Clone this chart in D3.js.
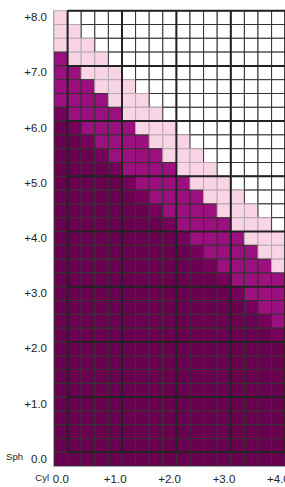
<!DOCTYPE html>
<html>
<head>
  <meta charset="utf-8">
  <script src="https://d3js.org/d3.v7.min.js"></script>
  <style>
    body { margin: 0; background: #fff; }
    svg text { font-family: "Liberation Sans", Arial, sans-serif; fill: #222; }
    .cell { stroke: #333; stroke-width: 1px; }
    .cell.p { stroke: #b9a9b0; }
    .major { stroke: #222; stroke-width: 2px; }
    .axis-line { stroke: #aaa; stroke-width: 1px; fill: none; }
  </style>
</head>
<body>
  <svg id="chart" width="285" height="487"></svg>
  <script>

    // Sph rows (top to bottom) and Cyl columns (left to right)
    const sphValues = [8.00, 7.75, 7.50, 7.25, 7.00, 6.75, 6.50, 6.25, 6.00, 5.75, 5.50,
                       5.25, 5.00, 4.75, 4.50, 4.25, 4.00, 3.75, 3.50, 3.25, 3.00, 2.75,
                       2.50, 2.25, 2.00, 1.75, 1.50, 1.25, 1.00, 0.75, 0.50, 0.25, 0.00];
    const cylValues = [0.00, 0.25, 0.50, 0.75, 1.00, 1.25, 1.50, 1.75, 2.00,
                       2.25, 2.50, 2.75, 3.00, 3.25, 3.50, 3.75, 4.00];

    // Tick labels
    const sphTicks = [8, 7, 6, 5, 4, 3, 2, 1, 0];
    const sphTickLabels = ["+8.0", "+7.0", "+6.0", "+5.0", "+4.0", "+3.0", "+2.0", "+1.0", "0.0"];
    const cylTicks = [0, 1, 2, 3, 4];
    const cylTickLabels = ["0.0", "+1.0", "+2.0", "+3.0", "+4.0"];

    // Cell classes, one string per Sph row, one letter per Cyl column
    // w = white, p = pink, m = magenta, d = mid dark, k = dark
    const cellRows = [
      "pwwwwwwwwwwwwwwww",
      "ppwwwwwwwwwwwwwww",
      "pppwwwwwwwwwwwwww",
      "mpppwwwwwwwwwwwww",
      "mmpppwwwwwwwwwwww",
      "mmmpppwwwwwwwwwww",
      "mmmmpppwwwwwwwwww",
      "dmmmmpppwwwwwwwww",
      "kdmmmmpppwwwwwwww",
      "kkdmmmmpppwwwwwww",
      "kkkdmmmmpppwwwwww",
      "kkkkdmmmmpppwwwww",
      "kkkkkdmmmmpppwwww",
      "kkkkkkdmmmmpppwww",
      "kkkkkkkdmmmmpppww",
      "kkkkkkkkdmmmmpppw",
      "kkkkkkkkkdmmmmppp",
      "kkkkkkkkkkdmmmmpp",
      "kkkkkkkkkkkdmmmmp",
      "kkkkkkkkkkkkdmmmm",
      "kkkkkkkkkkkkkdmmm",
      "kkkkkkkkkkkkkkdmm",
      "kkkkkkkkkkkkkkkdm",
      "kkkkkkkkkkkkkkkkd",
      "kkkkkkkkkkkkkkkkk",
      "kkkkkkkkkkkkkkkkk",
      "kkkkkkkkkkkkkkkkk",
      "kkkkkkkkkkkkkkkkk",
      "kkkkkkkkkkkkkkkkk",
      "kkkkkkkkkkkkkkkkk",
      "kkkkkkkkkkkkkkkkk",
      "kkkkkkkkkkkkkkkkk",
      "kkkkkkkkkkkkkkkkk"
    ];

    const classColor = { w: "#ffffff", p: "#f9d4e5", m: "#9c0f7e", d: "#76005c", k: "#6a0050" };

    const svg = d3.select("svg#chart");

    const gridLeft = 54, gridRight = 285.2, gridTop = 10.7, gridBottom = 466.1;

    const x = d3.scaleBand().domain(cylValues).range([gridLeft, gridRight]);
    const y = d3.scaleBand().domain(sphValues).range([gridTop, gridBottom]);

    // flatten rows into cells
    const cells = [];
    cellRows.forEach((row, i) => {
      row.split("").forEach((c, j) => {
        cells.push({ sph: sphValues[i], cyl: cylValues[j], cls: c });
      });
    });

    svg.append("g").selectAll("rect.cell").data(cells)
       .join("rect")
         .attr("class", d => "cell " + d.cls)
         .attr("x", d => x(d.cyl))
         .attr("y", d => y(d.sph))
         .attr("width", x.bandwidth())
         .attr("height", y.bandwidth())
         .attr("fill", d => classColor[d.cls]);

    // Heavy lines: groups of four steps, the 0.0 row and column stay outside
    const majors = svg.append("g");
    majors.selectAll("line.h").data(sphTicks)
          .join("line").attr("class", "major h")
            .attr("x1", x(0.25)).attr("x2", gridRight)
            .attr("y1", d => y(d)).attr("y2", d => y(d));
    majors.selectAll("line.v").data(cylTicks)
          .join("line").attr("class", "major v")
            .attr("x1", d => x(d) + x.bandwidth()).attr("x2", d => x(d) + x.bandwidth())
            .attr("y1", gridTop).attr("y2", y(0));

    // grey L axis lines
    svg.append("path").attr("class", "axis-line")
       .attr("d", `M${gridLeft - 0.5},${gridTop}V${gridBottom + 0.5}H${gridRight}`);

    // Axes (labels only)
    const yAxis = d3.axisLeft(y).tickValues(sphTicks).tickSize(0).tickPadding(7)
                    .tickFormat(d => sphTickLabels[sphTicks.indexOf(d)]);
    const gy = svg.append("g").attr("transform", `translate(${gridLeft},0)`).call(yAxis);
    gy.select(".domain").remove();
    gy.selectAll("text").style("font-size", "11.5px");

    const xAxis = d3.axisBottom(x).tickValues(cylTicks).tickSize(0).tickPadding(9)
                    .tickFormat(d => cylTickLabels[cylTicks.indexOf(d)]);
    const gx = svg.append("g").attr("transform", `translate(0,${gridBottom})`).call(xAxis);
    gx.select(".domain").remove();
    gx.selectAll("text").style("font-size", "11.5px");

    // axis names
    svg.append("text").attr("x", 23).attr("y", 460).attr("text-anchor", "end")
       .style("font-size", "9.5px").text("Sph");
    svg.append("text").attr("x", 49).attr("y", 481).attr("text-anchor", "end")
       .style("font-size", "9.5px").text("Cyl");

  </script>
</body>
</html>
